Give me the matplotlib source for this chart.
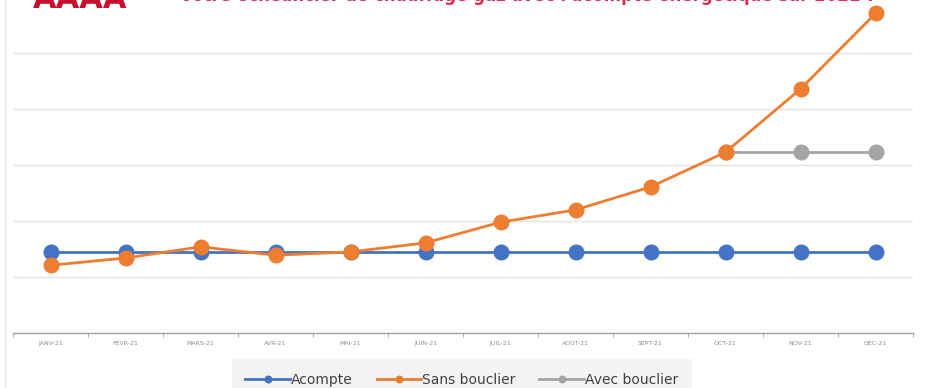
import matplotlib.pyplot as plt
import numpy as np

# données (unités arbitraires, 1 = un pas de grille)
mois = ["JANV-21", "FÉVR-21", "MARS-21", "AVR-21", "MAI-21", "JUIN-21",
        "JUIL-21", "AOÛT-21", "SEPT-21", "OCT-21", "NOV-21", "DÉC-21"]
acompte = [1.45, 1.45, 1.45, 1.45, 1.45, 1.45, 1.45, 1.45, 1.45, 1.45, 1.45, 1.45]
sans_bouclier = [1.21, 1.34, 1.54, 1.39, 1.45, 1.61, 1.98, 2.20, 2.61, 3.23, 4.36, 5.71]
avec_bouclier = [np.nan] * 9 + [3.23, 3.23, 3.23]

BLUE = "#4472C4"
ORANGE = "#ED7D31"
GREY = "#A5A5A5"
TITLE_RED = "#E0284F"

fig = plt.figure(figsize=(9.27, 3.88), dpi=100)
ax = fig.add_axes([13 / 927, 55 / 388, 900 / 927, 333 / 388])

x = np.arange(len(mois))
ax.plot(x, acompte, color=BLUE, lw=2, marker="o", ms=10.5, label="Acompte", zorder=3)
ax.plot(x, avec_bouclier, color=GREY, lw=2, marker="o", ms=10.5, label="Avec bouclier", zorder=3)
ax.plot(x, sans_bouclier, color=ORANGE, lw=2, marker="o", ms=10.5, label="Sans bouclier", zorder=4)

ax.set_xlim(-0.5, len(mois) - 0.5)
ax.set_ylim(0, 5.95)
ax.set_yticks(np.arange(1, 6))
ax.yaxis.grid(True, color="#e3e3e3", lw=1)
ax.set_axisbelow(True)
ax.tick_params(axis="y", left=False, labelleft=False)

ax.set_xticks(x)
ax.set_xticklabels(mois, fontsize=4.5, color="#8c8c8c")
ax.set_xticks(np.arange(-0.5, len(mois)), minor=True)
ax.tick_params(axis="x", which="major", length=0, pad=6)
ax.tick_params(axis="x", which="minor", length=3, color="#a0a0a0", direction="out")

for s in ["top", "right", "left"]:
    ax.spines[s].set_visible(False)
ax.spines["bottom"].set_color("#a0a0a0")
ax.spines["bottom"].set_linewidth(1)

handles, labels = ax.get_legend_handles_labels()
order = [0, 2, 1]
leg = fig.legend([handles[i] for i in order], [labels[i] for i in order],
                 loc="center", bbox_to_anchor=(462 / 927, 1 - 380 / 388),
                 ncol=3, frameon=True, fontsize=10, markerscale=0.45,
                 handlelength=3.2, columnspacing=1.7, handletextpad=0.1,
                 labelcolor="#404040")
leg.get_frame().set_facecolor("#f2f2f2")
leg.get_frame().set_edgecolor("none")
leg.get_frame().set_boxstyle("square", pad=0.6)

# titre coupé en haut de l'image
fig.text(528 / 927, 1.012, "Votre échéancier de chauffage gaz avec l'acompte énergétique sur 2021 ?",
         ha="center", va="center", fontsize=12, fontweight="bold", color=TITLE_RED)
fig.text(80 / 927, 1.0, "AAAA", ha="center", va="center", fontsize=22,
         fontweight="bold", color="#C8102E")

fig.add_artist(plt.Line2D([5 / 927, 5 / 927], [0, 1], color="#e6e6e6", lw=1))

fig.savefig("out.png", dpi=100)
